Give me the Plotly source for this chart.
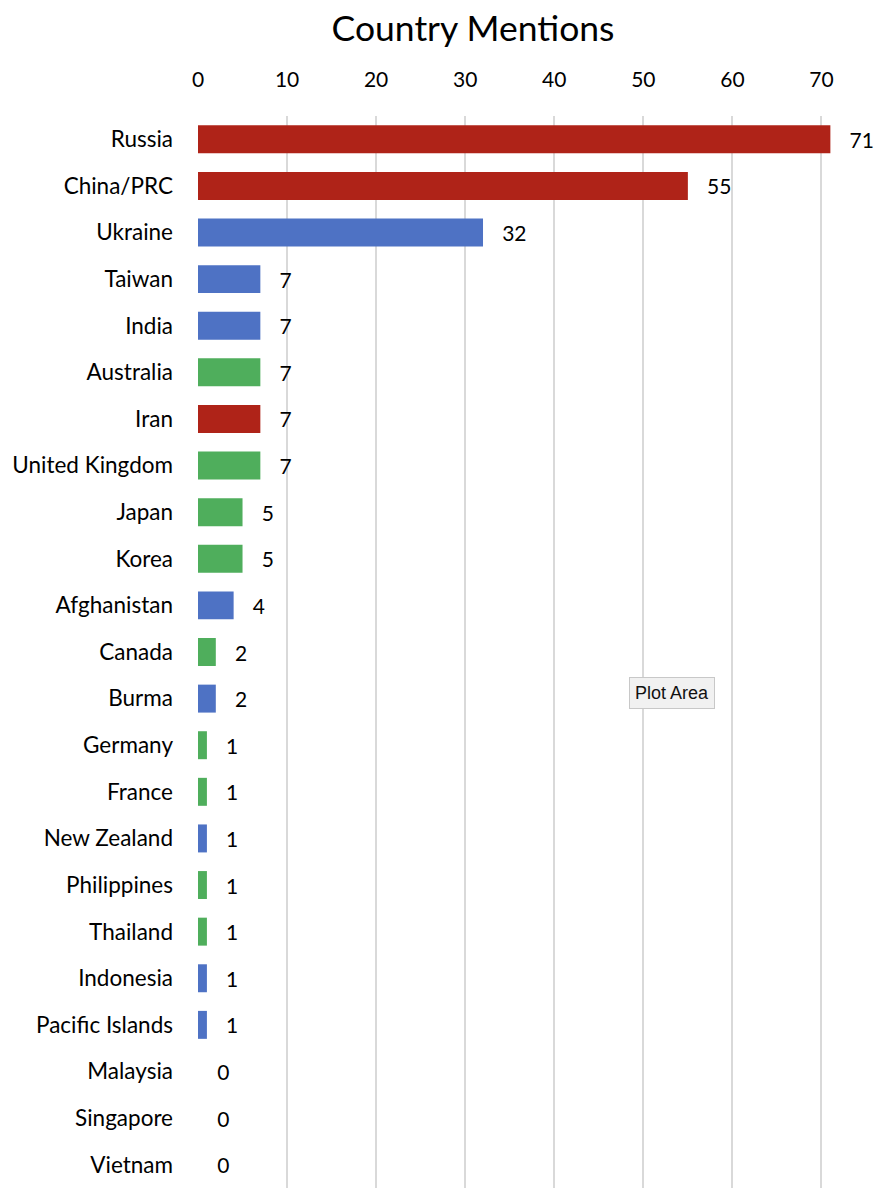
import plotly.graph_objects as go

countries = ["Russia", "China/PRC", "Ukraine", "Taiwan", "India", "Australia", "Iran",
             "United Kingdom", "Japan", "Korea", "Afghanistan", "Canada", "Burma", "Germany",
             "France", "New Zealand", "Philippines", "Thailand", "Indonesia", "Pacific Islands",
             "Malaysia", "Singapore", "Vietnam"]
mentions = [71, 55, 32, 7, 7, 7, 7, 7, 5, 5, 4, 2, 2, 1, 1, 1, 1, 1, 1, 1, 0, 0, 0]
groups = ["red", "red", "blue", "blue", "blue", "green", "red", "green", "green", "green",
          "blue", "green", "blue", "green", "green", "blue", "green", "green", "blue", "blue",
          "green", "green", "green"]
x_ticks = [0, 10, 20, 30, 40, 50, 60, 70]

palette = {"red": "#AF2318", "blue": "#4E72C4", "green": "#4FAE5C"}
colors = [palette[g] for g in groups]

FONT = "Lato"

fig = go.Figure(go.Bar(
    x=mentions, y=countries, orientation="h",
    marker=dict(color=colors, line=dict(width=0)),
    text=[f"   {v}" for v in mentions], textposition="outside",
    textfont=dict(family=FONT, size=21, color="#000000"),
    cliponaxis=False, hoverinfo="skip",
))

fig.update_layout(
    width=893, height=1200,
    margin=dict(l=198, r=27, t=116, b=12, autoexpand=False),
    paper_bgcolor="white", plot_bgcolor="white",
    bargap=0.4, showlegend=False,
    title=dict(text="Country Mentions", x=473 / 893, xanchor="center", y=1 - 29 / 1200,
               yanchor="middle",
               font=dict(family=FONT, size=35.5, color="#000000")),
    font=dict(family=FONT, color="#000000"),
    annotations=[dict(text="Plot Area", xref="paper", yref="paper",
                      x=(672 - 198) / 668, y=1 - (693 - 116) / 1072,
                      xanchor="center", yanchor="middle",
                      showarrow=False, font=dict(family="Liberation Sans", size=18, color="#111111"),
                      bgcolor="#F1F1F1", bordercolor="#C8C8C8", borderwidth=1, borderpad=5)],
)
fig.update_xaxes(side="top", range=[0, 75], tickvals=x_ticks, showgrid=True,
                 gridcolor="#D9D9D9", gridwidth=2, zeroline=False, showline=False,
                 tickfont=dict(family=FONT, size=21), ticklabelstandoff=24,
                 automargin=False, fixedrange=True)
fig.update_yaxes(autorange="reversed", showgrid=False, showline=False, zeroline=False,
                 tickfont=dict(family=FONT, size=22.5), ticklabelstandoff=24, automargin=False)

fig.write_html("out.html", config={"displayModeBar": False},
               post_script="document.body.style.margin='0';")
